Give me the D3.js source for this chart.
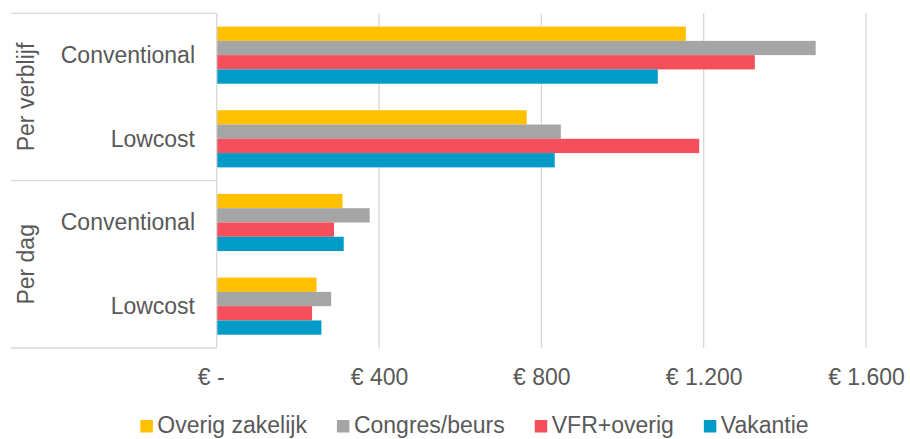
<!DOCTYPE html>
<html>
<head>
<meta charset="utf-8">
<script src="https://cdn.jsdelivr.net/npm/d3@7"></script>
<style>
  body { margin: 0; background: #fff; }
  text { font-family: "Liberation Sans", Arial, sans-serif; fill: #595959; }
</style>
</head>
<body>
<div id="chart"></div>
<script>
// data
const groups = ['Per verblijf', 'Per dag'];
const categories = ['Conventional', 'Lowcost'];
const series = ['Overig zakelijk', 'Congres/beurs', 'VFR+overig', 'Vakantie'];
const colors = ['#FFC000', '#A5A5A5', '#F44F5A', '#009CC7'];

// rows: Per verblijf/Conventional, Per verblijf/Lowcost, Per dag/Conventional, Per dag/Lowcost
const overigZakelijk = [1156, 764, 310, 246];
const congresBeurs = [1476, 848, 377, 282];
const vfrOverig = [1326, 1189, 289, 235];
const vakantie = [1087, 833, 313, 258];
const seriesValues = [overigZakelijk, congresBeurs, vfrOverig, vakantie];

const tickValues = [0, 400, 800, 1200, 1600];
const tickLabels = ['€ -', '€ 400', '€ 800', '€ 1.200', '€ 1.600'];

const width = 910;
const height = 439;
const plot = { left: 216.7, right: 866, top: 13.3, bottom: 348 };
const fontSize = 23;
const lineColor = '#D9D9D9';

const rows = [];
groups.forEach(g => categories.forEach(c => rows.push(g + '|' + c)));

const svg = d3.select('#chart').append('svg')
  .attr('width', width)
  .attr('height', height);

const x = d3.scaleLinear().domain([0, 1600]).range([plot.left, plot.right]);
const yRow = d3.scaleBand().domain(rows).range([plot.top, plot.bottom]);
const ySeries = d3.scaleBand().domain(series)
  .range([0, yRow.bandwidth()])
  .paddingOuter(0.93);

// gridlines
svg.append('g')
  .selectAll('line')
  .data(tickValues.slice(1))
  .enter()
  .append('line')
  .attr('x1', d => x(d)).attr('x2', d => x(d))
  .attr('y1', plot.top).attr('y2', plot.bottom)
  .style('stroke', lineColor)
  .style('stroke-width', 1.3);

// bars
series.forEach((s, i) => {
  svg.append('g')
    .selectAll('rect')
    .data(seriesValues[i])
    .enter()
    .append('rect')
    .attr('x', x(0))
    .attr('y', (d, j) => yRow(rows[j]) + ySeries(s))
    .attr('width', d => x(d) - x(0))
    .attr('height', ySeries.bandwidth())
    .style('fill', colors[i]);
});

// category axis line + outer group separators
svg.append('line')
  .attr('x1', plot.left).attr('x2', plot.left)
  .attr('y1', plot.top).attr('y2', plot.bottom)
  .style('stroke', lineColor).style('stroke-width', 1.3);

const groupEdges = [plot.top, yRow(rows[2]), plot.bottom];
svg.append('g')
  .selectAll('line')
  .data(groupEdges)
  .enter()
  .append('line')
  .attr('x1', 11).attr('x2', plot.left)
  .attr('y1', d => d).attr('y2', d => d)
  .style('stroke', lineColor).style('stroke-width', 1.3);

// inner category labels
svg.append('g')
  .selectAll('text')
  .data(rows)
  .enter()
  .append('text')
  .attr('x', 195)
  .attr('y', d => yRow(d) + yRow.bandwidth() / 2 + 8)
  .style('text-anchor', 'end')
  .style('font-size', fontSize + 'px')
  .text(d => d.split('|')[1]);

// outer group labels (rotated)
groups.forEach((g, i) => {
  const cy = (groupEdges[i] + groupEdges[i + 1]) / 2;
  svg.append('text')
    .attr('transform', 'translate(34,' + cy + ') rotate(-90)')
    .style('text-anchor', 'middle')
    .style('font-size', fontSize + 'px')
    .text(g);
});

// value axis
const xAxis = d3.axisBottom(x)
  .tickValues(tickValues)
  .tickFormat((d, i) => tickLabels[i])
  .tickSize(0)
  .tickPadding(0);

const axisG = svg.append('g')
  .attr('transform', 'translate(0,385)')
  .call(xAxis);
axisG.select('.domain').remove();
axisG.selectAll('text')
  .attr('dy', 0)
  .attr('y', 0)
  .attr('dx', (d, i) => i === 0 ? -6 : 0)
  .style('font-size', fontSize + 'px')
  .style('font-family', '"Liberation Sans", Arial, sans-serif')
  .style('fill', '#595959');

// legend
const legend = svg.append('g');
const items = legend.selectAll('g')
  .data(series)
  .enter()
  .append('g');
items.append('rect')
  .attr('width', 12.5).attr('height', 12.5)
  .attr('y', -13)
  .style('fill', (d, i) => colors[i]);
items.append('text')
  .attr('x', 17)
  .style('font-size', fontSize + 'px')
  .text(d => d);

let cursor = 0;
items.each(function () {
  const w = 17 + d3.select(this).select('text').node().getComputedTextLength();
  d3.select(this).attr('transform', 'translate(' + cursor + ',0)');
  cursor += w + 30;
});
const legendWidth = cursor - 30;
legend.attr('transform', 'translate(' + (474.5 - legendWidth / 2) + ',433)');
</script>
</body>
</html>
